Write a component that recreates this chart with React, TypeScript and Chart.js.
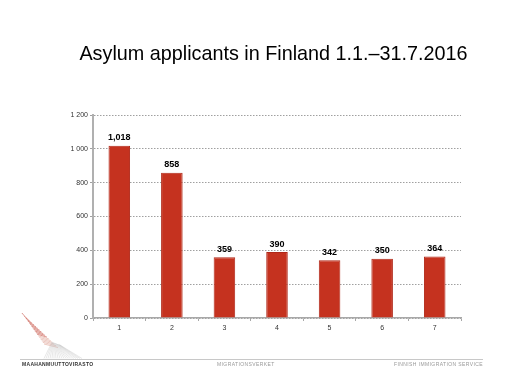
import React, { useEffect, useRef } from "react";
import { Chart, registerables } from "chart.js";

Chart.register(...registerables);

const categories = ["1", "2", "3", "4", "5", "6", "7"];
const applicants = [1018, 858, 359, 390, 342, 350, 364];
const valueLabels = ["1,018", "858", "359", "390", "342", "350", "364"];
const yTicks = [0, 200, 400, 600, 800, 1000, 1200];
const yTickLabels = ["0", "200", "400", "600", "800", "1 000", "1 200"];
const titleText = "Asylum applicants in Finland 1.1.–31.7.2016";
const footerTexts = ["MAAHANMUUTTOVIRASTO", "MIGRATIONSVERKET", "FINNISH IMMIGRATION SERVICE"];

const FONT = "'Liberation Sans', Arial, sans-serif";

const decorPlugin = {
  id: "decor",
  afterDraw(chart: any) {
    const ctx = chart.ctx as CanvasRenderingContext2D;
    ctx.save();
    // title
    ctx.fillStyle = "#000";
    ctx.font = `19.8px ${FONT}`;
    ctx.textAlign = "center";
    ctx.textBaseline = "alphabetic";
    ctx.fillText(titleText, 273.5, 60);

    // value labels
    const meta = chart.getDatasetMeta(0);
    ctx.font = `bold 9px ${FONT}`;
    ctx.fillStyle = "#000";
    ctx.textBaseline = "middle";
    meta.data.forEach((bar: any, i: number) => {
      ctx.fillText(valueLabels[i], bar.x, bar.y - 8);
    });

    // footer line
    ctx.strokeStyle = "#c8c8c8";
    ctx.lineWidth = 1;
    ctx.beginPath();
    ctx.moveTo(20, 359.5);
    ctx.lineTo(483, 359.5);
    ctx.stroke();

    // footer texts
    ctx.textBaseline = "middle";
    (ctx as any).letterSpacing = "0.3px";
    ctx.font = `bold 5px ${FONT}`;
    ctx.fillStyle = "#333";
    ctx.textAlign = "left";
    ctx.fillText(footerTexts[0], 22, 365);
    (ctx as any).letterSpacing = "0.4px";
    ctx.font = `5px ${FONT}`;
    ctx.fillStyle = "#999";
    ctx.fillText(footerTexts[1], 217, 365);
    ctx.textAlign = "right";
    ctx.fillText(footerTexts[2], 483, 365);
    (ctx as any).letterSpacing = "0px";

    // logo (wing)
    const n = 20;
    for (let i = 0; i < n; i++) {
      const t = i / (n - 1);
      const y0 = 313 + 31 * t;
      const xl = 22 + 22 * t;
      const xr = 23 + 35 * t;
      ctx.strokeStyle = t < 0.7 ? "#b82818" : "#d89080";
      ctx.lineWidth = 0.5;
      ctx.beginPath();
      ctx.moveTo(xl, y0);
      ctx.lineTo(xr, y0 + 1.5 + 2 * t);
      ctx.stroke();
    }
    const m = 20;
    for (let i = 0; i < m; i++) {
      const t = i / (m - 1);
      ctx.strokeStyle = "#c4c4c4";
      ctx.lineWidth = 0.4;
      ctx.beginPath();
      ctx.moveTo(52 + 8 * t, 342 + 3 * t);
      ctx.lineTo(44 + 38 * t, 358.5);
      ctx.stroke();
    }
    ctx.restore();
  },
};

export default function App() {
  const ref = useRef<HTMLCanvasElement | null>(null);
  useEffect(() => {
    document.body.style.margin = "0";
    const chart = new Chart(ref.current as HTMLCanvasElement, {
      type: "bar",
      data: {
        labels: categories,
        datasets: [
          {
            data: applicants,
            backgroundColor: "#c5321f",
            borderColor: "#b02818",
            borderWidth: 1,
            barPercentage: 0.41,
            categoryPercentage: 1,
          },
        ],
      },
      options: {
        responsive: false,
        animation: false,
        layout: { padding: { left: 0, right: 44, top: 115, bottom: 0 } },
        plugins: { legend: { display: false }, tooltip: { enabled: false }, title: { display: false } },
        scales: {
          x: {
            offset: true,
            afterFit(scale: any) {
              scale.height = 61;
            },
            grid: {
              offset: true,
              drawOnChartArea: false,
              drawTicks: true,
              tickLength: 3,
              color: "#a8a8a8",
            },
            border: { display: true, color: "#a8a8a8", width: 1.5 },
            ticks: { color: "#333", font: { family: FONT, size: 7 }, padding: 3 },
          },
          y: {
            min: 0,
            max: 1200,
            afterFit(scale: any) {
              scale.width = 93;
            },
            afterBuildTicks(scale: any) {
              scale.ticks = yTicks.map((v) => ({ value: v }));
            },
            grid: {
              color: "#a0a0a0",
              lineWidth: 1,
              tickLength: 3,
              drawTicks: true,
            } as any,
            border: { display: true, color: "#b0b0b0", width: 2, dash: [1.5, 1.5] } as any,
            ticks: {
              color: "#333",
              font: { family: FONT, size: 7 },
              padding: 2,
              callback: (_v: any, i: number) => yTickLabels[i],
            },
          },
        },
      },
      plugins: [decorPlugin],
    });
    return () => chart.destroy();
  }, []);
  return (
    <div style={{ position: "fixed", left: 0, top: 0, width: 505, height: 379, background: "#fff" }}>
      <canvas ref={ref} width={505} height={379} />
    </div>
  );
}
